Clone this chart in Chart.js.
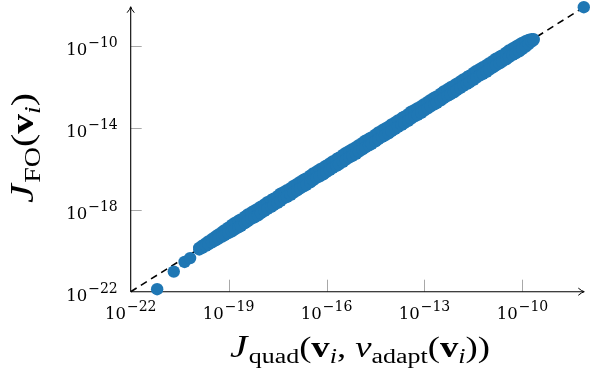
<!DOCTYPE html>
<html>
<head>
<meta charset="utf-8">
<script src="https://cdn.jsdelivr.net/npm/chart.js@4"></script>
<style>
  html, body { margin: 0; padding: 0; background: #fff; }
  #wrap { width: 590px; height: 385px; }
</style>
</head>
<body>
<div id="wrap"><canvas id="chart" width="590" height="385"></canvas></div>
<script>
// axis range (log10) and tick exponents
const axisMinExp = -22;
const axisMaxExp = -8.12;
const xTickExps = [-22, -19, -16, -13, -10];
const yTickExps = [-22, -18, -14, -10];

// isolated samples, log10 values (x = J_quad, y = J_FO)
const sparseQuadExp = [-21.19, -20.68, -20.35, -20.18, -8.12];
const sparseFoExp   = [-21.88, -21.02, -20.55, -20.36, -8.12];

// dense band of samples: x values, with the upper and lower edge of the band in y
const bandQuadExp = [
  -19.90, -19.81, -19.70, -19.62, -19.51, -19.40, -19.31, -19.20, -19.12, -19.01,
  -18.90, -18.81, -18.70, -18.62, -18.50, -18.41, -18.30, -18.21, -18.10, -18.01,
  -17.90, -17.81, -17.70, -17.62, -17.50, -17.41, -17.30, -17.21, -17.10, -17.01,
  -16.90, -16.81, -16.70, -16.62, -16.50, -16.41, -16.30, -16.21, -16.10, -16.01,
  -15.90, -15.81, -15.70, -15.62, -15.50, -15.41, -15.30, -15.21, -15.10, -15.01,
  -14.90, -14.81, -14.70, -14.62, -14.50, -14.41, -14.30, -14.21, -14.10, -14.01,
  -13.90, -13.81, -13.70, -13.62, -13.50, -13.41, -13.30, -13.21, -13.10, -13.01,
  -12.90, -12.81, -12.70, -12.62, -12.50, -12.41, -12.30, -12.21, -12.10, -12.01,
  -11.90, -11.81, -11.70, -11.62, -11.50, -11.41, -11.30, -11.21, -11.10, -11.01,
  -10.90, -10.81, -10.70, -10.62, -10.50, -10.41, -10.30, -10.21, -10.10, -10.01,
  -9.90, -9.81, -9.72, -9.66
];
const bandFoHiExp = [
  -19.86, -19.76, -19.64, -19.55, -19.43, -19.31, -19.21, -19.09, -19.00, -18.88,
  -18.74, -18.64, -18.54, -18.47, -18.34, -18.23, -18.13, -18.05, -17.95, -17.85,
  -17.74, -17.63, -17.54, -17.46, -17.34, -17.22, -17.13, -17.05, -16.95, -16.84,
  -16.74, -16.64, -16.53, -16.47, -16.34, -16.23, -16.13, -16.04, -15.95, -15.85,
  -15.74, -15.64, -15.54, -15.46, -15.33, -15.23, -15.13, -15.05, -14.95, -14.85,
  -14.74, -14.63, -14.54, -14.47, -14.34, -14.23, -14.13, -14.05, -13.95, -13.84,
  -13.74, -13.64, -13.54, -13.46, -13.34, -13.22, -13.13, -13.05, -12.95, -12.85,
  -12.74, -12.64, -12.53, -12.47, -12.34, -12.23, -12.13, -12.04, -11.95, -11.85,
  -11.74, -11.64, -11.54, -11.46, -11.33, -11.23, -11.13, -11.05, -10.95, -10.85,
  -10.74, -10.63, -10.54, -10.47, -10.34, -10.23, -10.13, -10.05, -9.95, -9.86,
  -9.78, -9.72, -9.68, -9.68
];
const bandFoLoExp = [
  -19.94, -19.86, -19.76, -19.69, -19.59, -19.49, -19.41, -19.31, -19.24, -19.14,
  -19.06, -18.96, -18.86, -18.79, -18.66, -18.56, -18.44, -18.37, -18.27, -18.17,
  -18.06, -17.96, -17.86, -17.78, -17.66, -17.57, -17.44, -17.37, -17.27, -17.17,
  -17.06, -16.96, -16.86, -16.79, -16.66, -16.56, -16.44, -16.37, -16.27, -16.17,
  -16.06, -15.96, -15.86, -15.79, -15.66, -15.56, -15.45, -15.37, -15.27, -15.17,
  -15.06, -14.96, -14.86, -14.79, -14.66, -14.56, -14.44, -14.37, -14.27, -14.17,
  -14.06, -13.96, -13.86, -13.78, -13.66, -13.56, -13.44, -13.37, -13.27, -13.17,
  -13.06, -12.96, -12.86, -12.79, -12.66, -12.56, -12.45, -12.37, -12.27, -12.17,
  -12.06, -11.96, -11.86, -11.79, -11.66, -11.56, -11.44, -11.37, -11.27, -11.17,
  -11.06, -10.96, -10.86, -10.78, -10.66, -10.56, -10.44, -10.37, -10.27, -10.17,
  -10.04, -9.92, -9.80, -9.72
];

// dashed reference line y = x
const refLineExp = [-22, -8.12];

const SERIF = '"DejaVu Serif", serif';
const TITLE = '"Liberation Serif", serif';
const pt = (ex, ey) => ({ x: 10 ** ex, y: 10 ** ey });
const points = [
  ...sparseQuadExp.map((e, i) => pt(e, sparseFoExp[i])),
  ...bandQuadExp.map((e, i) => pt(e, bandFoHiExp[i])),
  ...bandQuadExp.map((e, i) => pt(e, bandFoLoExp[i])),
];
const refLine = refLineExp.map(e => pt(e, e));

// text runs on one baseline (for the math-like labels)
function runsWidth(ctx, runs) {
  let w = 0;
  runs.forEach(r => { ctx.font = r.f; w += ctx.measureText(r.t).width + (r.kern || 0); });
  return w;
}
function drawRuns(ctx, runs, x, y) {
  runs.forEach(r => {
    ctx.font = r.f;
    ctx.fillText(r.t, x, y + (r.dy || 0));
    x += ctx.measureText(r.t).width + (r.kern || 0);
  });
}
function powRuns(exp) {
  return [
    { t: '10', f: '16.5px ' + SERIF, kern: 1 },
    { t: '\u2212' + Math.abs(exp), f: '14px ' + SERIF, dy: -8 },
  ];
}

function arrowHead(ctx, x, y, dir) {
  ctx.save();
  ctx.translate(x, y);
  if (dir === 'up') ctx.rotate(-Math.PI / 2);
  ctx.beginPath();
  ctx.moveTo(-5.5, -3.6);
  ctx.quadraticCurveTo(-2, -0.6, 0.5, 0);
  ctx.quadraticCurveTo(-2, 0.6, -5.5, 3.6);
  ctx.stroke();
  ctx.restore();
}

const pgfAxes = {
  id: 'pgfAxes',
  beforeDatasetsDraw(chart) {
    const { ctx, scales: { x, y } } = chart;
    const x0 = x.getPixelForValue(10 ** axisMinExp);
    const x1 = x.getPixelForValue(10 ** axisMaxExp);
    const y0 = y.getPixelForValue(10 ** axisMinExp);
    const y1 = y.getPixelForValue(10 ** axisMaxExp);
    ctx.save();
    ctx.strokeStyle = '#a8a8a8';
    ctx.lineWidth = 1;
    xTickExps.forEach(e => {
      if (e === axisMinExp) return;
      const px = Math.round(x.getPixelForValue(10 ** e)) + 0.5;
      ctx.beginPath(); ctx.moveTo(px, y0); ctx.lineTo(px, y0 - 12); ctx.stroke();
    });
    yTickExps.forEach(e => {
      if (e === axisMinExp) return;
      const py = Math.round(y.getPixelForValue(10 ** e)) + 0.5;
      ctx.beginPath(); ctx.moveTo(x0, py); ctx.lineTo(x0 + 11, py); ctx.stroke();
    });
    ctx.strokeStyle = '#000';
    ctx.lineWidth = 1.1;
    ctx.beginPath();
    ctx.moveTo(x0, y0); ctx.lineTo(x1, y0);
    ctx.moveTo(x0, y0); ctx.lineTo(x0, y1);
    ctx.stroke();
    ctx.lineWidth = 1;
    arrowHead(ctx, x1, y0, 'right');
    arrowHead(ctx, x0, y1, 'up');
    ctx.restore();
  },
  afterDraw(chart) {
    const { ctx, scales: { x, y } } = chart;
    const x0 = x.getPixelForValue(10 ** axisMinExp);
    const y0 = y.getPixelForValue(10 ** axisMinExp);
    ctx.save();
    ctx.fillStyle = '#000';
    ctx.textBaseline = 'alphabetic';
    ctx.textAlign = 'left';
    xTickExps.forEach(e => {
      const runs = powRuns(e);
      const w = runsWidth(ctx, runs);
      drawRuns(ctx, runs, x.getPixelForValue(10 ** e) - w / 2, y0 + 27);
    });
    yTickExps.forEach(e => {
      const runs = powRuns(e);
      const w = runsWidth(ctx, runs);
      drawRuns(ctx, runs, x0 - 13 - w, y.getPixelForValue(10 ** e) + 9);
    });

    const main = '29px ' + TITLE, sub = '20.5px ' + TITLE;
    const xTitle = [
      { t: 'J', f: 'italic 31px ' + TITLE, kern: 1 },
      { t: 'quad', f: sub, dy: 6 },
      { t: '(', f: main },
      { t: 'v', f: 'bold ' + main },
      { t: 'i', f: 'italic ' + sub, dy: 6 },
      { t: ', ', f: main },
      { t: '\u03bd', f: 'italic ' + main },
      { t: 'adapt', f: sub, dy: 6 },
      { t: '(', f: main },
      { t: 'v', f: 'bold ' + main },
      { t: 'i', f: 'italic ' + sub, dy: 6 },
      { t: '))', f: main },
    ];
    const xw = runsWidth(ctx, xTitle);
    ctx.save();
    ctx.translate(360, 357);
    ctx.scale(260 / xw, 1);
    drawRuns(ctx, xTitle, -xw / 2, 0);
    ctx.restore();

    const yTitle = [
      { t: 'J', f: 'italic 31px ' + TITLE, kern: 1 },
      { t: 'FO', f: sub, dy: 6 },
      { t: '(', f: main },
      { t: 'v', f: 'bold ' + main },
      { t: 'i', f: 'italic ' + sub, dy: 6 },
      { t: ')', f: main },
    ];
    const yw = runsWidth(ctx, yTitle);
    ctx.save();
    ctx.translate(33, 148);
    ctx.rotate(-Math.PI / 2);
    ctx.scale(110 / yw, 1.1);
    drawRuns(ctx, yTitle, -yw / 2, 0);
    ctx.restore();
    ctx.restore();
  }
};

new Chart(document.getElementById('chart'), {
  type: 'scatter',
  data: {
    datasets: [
      {
        label: 'samples',
        data: points,
        backgroundColor: '#1f77b4',
        borderWidth: 0,
        pointRadius: 6.2,
        pointHoverRadius: 6.2,
        order: 1,
        clip: false,
      },
      {
        label: 'y = x',
        data: refLine,
        showLine: true,
        borderColor: '#000',
        borderWidth: 1.6,
        borderDash: [7, 5],
        pointRadius: 0,
        order: 2,
        clip: false,
      },
    ],
  },
  options: {
    responsive: false,
    animation: false,
    devicePixelRatio: 1,
    events: [],
    layout: { padding: { left: 130.7, right: 2.4, top: 7.2, bottom: 93.3 } },
    plugins: { legend: { display: false }, tooltip: { enabled: false } },
    scales: {
      x: { type: 'logarithmic', min: 10 ** axisMinExp, max: 10 ** axisMaxExp, display: false },
      y: { type: 'logarithmic', min: 10 ** axisMinExp, max: 10 ** axisMaxExp, display: false },
    },
  },
  plugins: [pgfAxes],
});
</script>
</body>
</html>
